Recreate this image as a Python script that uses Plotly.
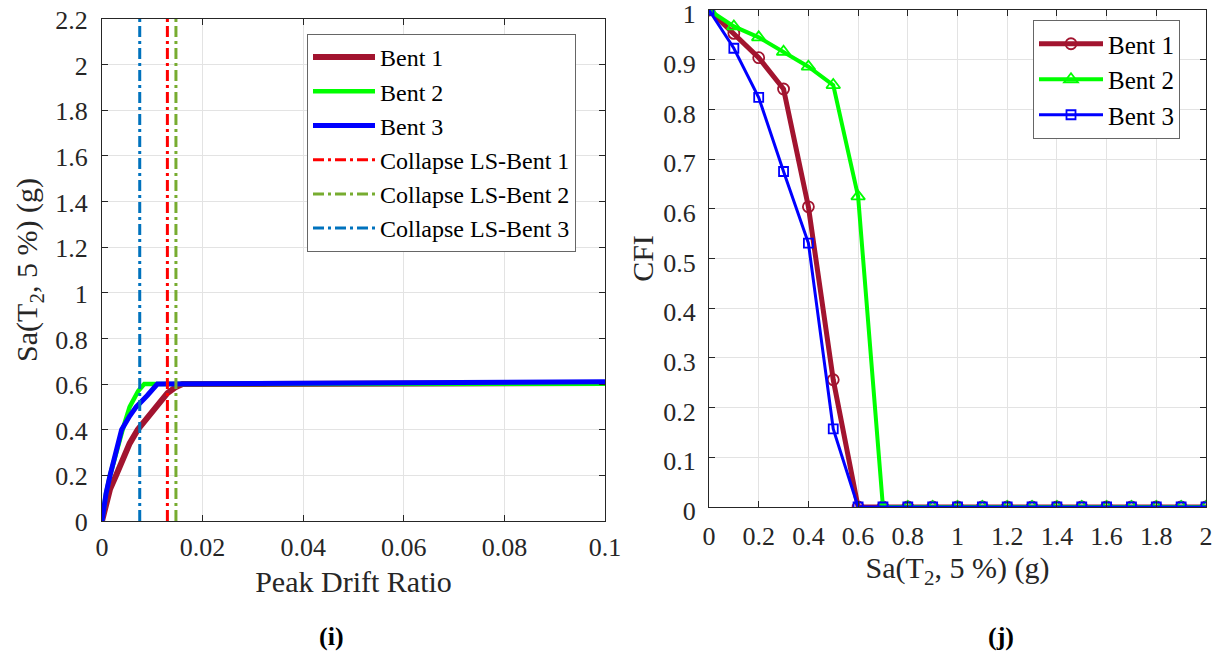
import plotly.graph_objects as go

# ---------------- data: left panel (i) ----------------
bent1_drift = [0, 0.0008, 0.0016, 0.0028, 0.004, 0.0055, 0.0071, 0.009, 0.011, 0.013, 0.0145, 0.016, 0.1]
bent1_sa = [0, 0.08, 0.14, 0.2, 0.27, 0.34, 0.4, 0.45, 0.5, 0.56, 0.585, 0.6, 0.605]
bent2_drift = [0, 0.0008, 0.0016, 0.0028, 0.0041, 0.0055, 0.0072, 0.0084, 0.1]
bent2_sa = [0, 0.12, 0.2, 0.3, 0.4, 0.5, 0.57, 0.6, 0.602]
bent3_drift = [0, 0.0008, 0.0016, 0.0028, 0.0039, 0.0055, 0.0068, 0.009, 0.011, 0.1]
bent3_sa = [0, 0.12, 0.2, 0.3, 0.4, 0.46, 0.5, 0.55, 0.6, 0.61]
collapse_drift = [0.013, 0.0147, 0.0075]  # Bent 1, Bent 2, Bent 3
collapse_names = ["Collapse LS-Bent 1", "Collapse LS-Bent 2", "Collapse LS-Bent 3"]
left_yrange = [0, 2.2]

# ---------------- data: right panel (j) ----------------
sa_levels = [0, 0.1, 0.2, 0.3, 0.4, 0.5, 0.6, 0.7, 0.8, 0.9, 1.0, 1.1, 1.2, 1.3, 1.4, 1.5, 1.6, 1.7, 1.8, 1.9, 2.0]
cfi_bent1 = [1, 0.953, 0.904, 0.841, 0.604, 0.256, 0, 0, 0, 0, 0, 0, 0, 0, 0, 0, 0, 0, 0, 0, 0]
cfi_bent2 = [1, 0.967, 0.945, 0.916, 0.886, 0.849, 0.625, 0, 0, 0, 0, 0, 0, 0, 0, 0, 0, 0, 0, 0, 0]
cfi_bent3 = [1, 0.923, 0.824, 0.675, 0.531, 0.157, 0, 0, 0, 0, 0, 0, 0, 0, 0, 0, 0, 0, 0, 0, 0]

left_xticks = [0, 0.02, 0.04, 0.06, 0.08, 0.1]
left_xticklabels = ["0", "0.02", "0.04", "0.06", "0.08", "0.1"]
left_yticks = [round(0.2 * i, 1) for i in range(12)]
left_yticklabels = ["0", "0.2", "0.4", "0.6", "0.8", "1", "1.2", "1.4", "1.6", "1.8", "2", "2.2"]
right_xticks = [round(0.2 * i, 1) for i in range(11)]
right_xticklabels = ["0", "0.2", "0.4", "0.6", "0.8", "1", "1.2", "1.4", "1.6", "1.8", "2"]
right_yticks = [round(0.1 * i, 1) for i in range(11)]
right_yticklabels = ["0", "0.1", "0.2", "0.3", "0.4", "0.5", "0.6", "0.7", "0.8", "0.9", "1"]

FONT = "Liberation Serif"
C1, C2, C3 = "#A2142F", "#00FF00", "#0000FF"
DASH_COLORS = ["#FF0000", "#77AC30", "#0072BD"]
AX = "#262626"
GRID = "#e3e3e3"

fig = go.Figure()

# left curves
fig.add_trace(go.Scatter(x=bent1_drift, y=bent1_sa, mode="lines", name="Bent 1",
                         line=dict(color=C1, width=6), xaxis="x", yaxis="y", legend="legend"))
fig.add_trace(go.Scatter(x=bent2_drift, y=bent2_sa, mode="lines", name="Bent 2",
                         line=dict(color=C2, width=4.5), xaxis="x", yaxis="y", legend="legend"))
fig.add_trace(go.Scatter(x=bent3_drift, y=bent3_sa, mode="lines", name="Bent 3",
                         line=dict(color=C3, width=5), xaxis="x", yaxis="y", legend="legend"))
for xd, nm, col in zip(collapse_drift, collapse_names, DASH_COLORS):
    fig.add_trace(go.Scatter(x=[xd, xd], y=left_yrange, mode="lines", name=nm,
                             line=dict(color=col, width=3, dash="11px,4px,3px,4px"),
                             xaxis="x", yaxis="y", legend="legend"))

# right curves
fig.add_trace(go.Scatter(x=sa_levels, y=cfi_bent1, mode="lines+markers", name="Bent 1",
                         line=dict(color=C1, width=5),
                         marker=dict(symbol="circle-open", size=11, color=C1, line=dict(width=1.8)),
                         xaxis="x2", yaxis="y2", legend="legend2"))
fig.add_trace(go.Scatter(x=sa_levels, y=cfi_bent2, mode="lines+markers", name="Bent 2",
                         line=dict(color=C2, width=4),
                         marker=dict(symbol="triangle-up-open", size=12, color=C2, line=dict(width=1.8)),
                         xaxis="x2", yaxis="y2", legend="legend2"))
fig.add_trace(go.Scatter(x=sa_levels, y=cfi_bent3, mode="lines+markers", name="Bent 3",
                         line=dict(color=C3, width=3),
                         marker=dict(symbol="square-open", size=9, color=C3, line=dict(width=1.8)),
                         xaxis="x2", yaxis="y2", legend="legend2"))

common_axis = dict(showline=True, linecolor=AX, linewidth=1, mirror="ticks", ticks="inside",
                   ticklen=6, tickcolor=AX, showgrid=True, gridcolor=GRID, gridwidth=1,
                   zeroline=False, automargin=False, ticklabeloverflow="allow",
                   tickfont=dict(family=FONT, size=26, color=AX))
title_font = dict(family=FONT, size=30, color=AX)

fig.update_layout(
    width=1220, height=664,
    margin=dict(l=0, r=0, t=0, b=0, autoexpand=False),
    paper_bgcolor="white", plot_bgcolor="white",
    font=dict(family=FONT, color=AX),
    xaxis=dict(domain=[102 / 1220, 605 / 1220], range=[0, 0.1], anchor="y",
               tickvals=left_xticks, ticktext=left_xticklabels, ticklabelstandoff=3,
               title=dict(text="Peak Drift Ratio", font=title_font, standoff=9),
               **common_axis),
    yaxis=dict(domain=[1 - 521 / 664, 1 - 19 / 664], range=left_yrange, anchor="x",
               tickvals=left_yticks, ticktext=left_yticklabels, ticklabelstandoff=8,
               ticklabelshift=1,
               title=dict(text="Sa(T<sub>2</sub>, 5 %) (g)", font=title_font, standoff=8),
               **common_axis),
    xaxis2=dict(domain=[709 / 1220, 1206 / 1220], range=[0, 2], anchor="y2",
                tickvals=right_xticks, ticktext=right_xticklabels, ticklabelstandoff=6,
                title=dict(text="Sa(T<sub>2</sub>, 5 %) (g)", font=title_font, standoff=6),
                **common_axis),
    yaxis2=dict(domain=[1 - 507 / 664, 1 - 10 / 664], range=[0, 1], anchor="x2",
                tickvals=right_yticks, ticktext=right_yticklabels, ticklabelstandoff=7,
                ticklabelshift=4,
                title=dict(text="CFI", font=title_font, standoff=0),
                **common_axis),
    legend=dict(x=307 / 1220, y=1 - 34 / 664, xanchor="left", yanchor="top",
                bgcolor="white", bordercolor="#666666", borderwidth=1,
                font=dict(family=FONT, size=24, color="black"), tracegroupgap=0,
                itemwidth=62),
    legend2=dict(x=1033 / 1220, y=1 - 20 / 664, xanchor="left", yanchor="top",
                 bgcolor="white", bordercolor="#666666", borderwidth=1,
                 font=dict(family=FONT, size=25, color="black"), tracegroupgap=0,
                 itemwidth=64),
    showlegend=True,
    annotations=[
        dict(text="<b>(i)</b>", x=331 / 1220, y=1 - 636 / 664, xref="paper", yref="paper",
             xanchor="center", yanchor="middle", showarrow=False,
             font=dict(family=FONT, size=26, color="black")),
        dict(text="<b>(j)</b>", x=1001 / 1220, y=1 - 636 / 664, xref="paper", yref="paper",
             xanchor="center", yanchor="middle", showarrow=False,
             font=dict(family=FONT, size=26, color="black")),
    ],
)

fig.write_html("out.html")
